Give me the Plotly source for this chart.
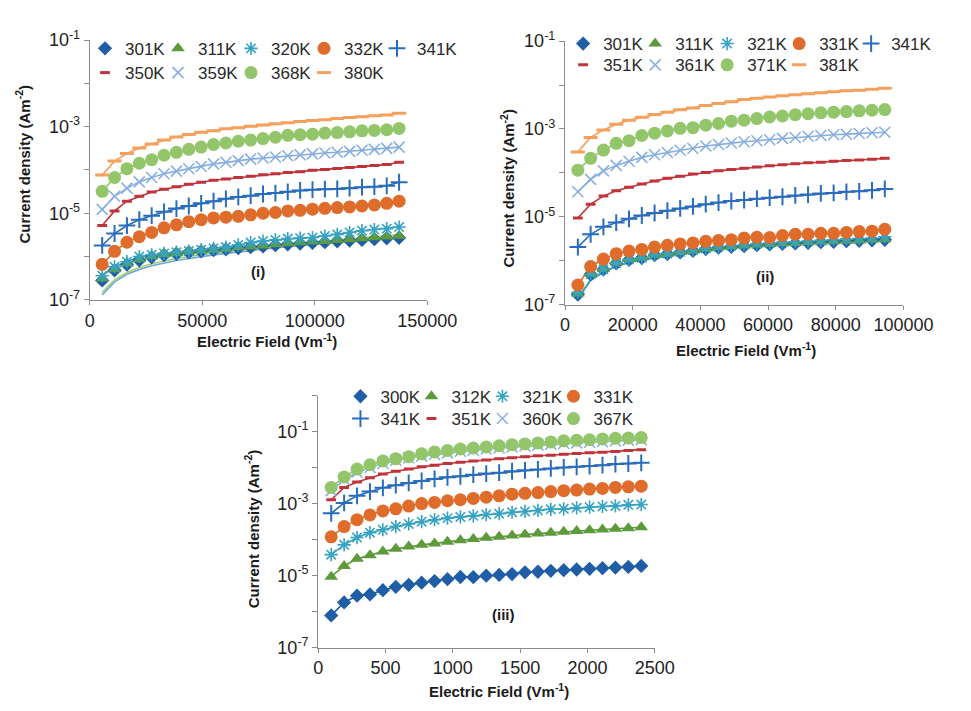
import plotly.graph_objects as go

# ---------------- data ----------------
field_i = [5500, 11000, 16500, 22000, 27500, 33000, 38500, 44000, 49500, 55000, 60500, 66000, 71500,
           77000, 82500, 88000, 93500, 99000, 104500, 110000, 115500, 121000, 126500, 132000, 137500]
field_ii = [3780, 7560, 11340, 15120, 18900, 22680, 26460, 30240, 34020, 37800, 41580, 45360, 49140,
            52920, 56700, 60480, 64260, 68040, 71820, 75600, 79380, 83160, 86940, 90720, 94500]
field_iii = [96, 192, 288, 384, 480, 576, 672, 768, 864, 960, 1056, 1152, 1248, 1344, 1440, 1536,
             1632, 1728, 1824, 1920, 2016, 2112, 2208, 2304, 2400]

temps_i = ['301K', '311K', '320K', '332K', '341K', '350K', '359K', '368K', '380K']
temps_ii = ['301K', '311K', '321K', '331K', '341K', '351K', '361K', '371K', '381K']
temps_iii = ['300K', '312K', '321K', '331K', '341K', '351K', '360K', '367K']

# panel (i) current density (A m^-2)
i_301 = [2.8e-7, 4.8e-7, 6.5e-7, 8.2e-7, 9.6e-7, 1.08e-6, 1.16e-6, 1.25e-6, 1.32e-6, 1.40e-6, 1.47e-6, 1.56e-6, 1.64e-6,
         1.72e-6, 1.83e-6, 1.92e-6, 2.0e-6, 2.08e-6, 2.15e-6, 2.25e-6, 2.33e-6, 2.42e-6, 2.52e-6, 2.64e-6, 2.7e-6]
i_311 = [3.1e-7, 5.1e-7, 6.9e-7, 8.6e-7, 1.02e-6, 1.15e-6, 1.21e-6, 1.32e-6, 1.37e-6, 1.44e-6, 1.52e-6, 1.63e-6, 1.71e-6,
         1.80e-6, 1.93e-6, 2.03e-6, 2.14e-6, 2.21e-6, 2.29e-6, 2.41e-6, 2.50e-6, 2.63e-6, 2.77e-6, 2.9e-6, 3.0e-6]
i_320 = [3.6e-7, 5.8e-7, 7.6e-7, 1.0e-6, 1.1e-6, 1.18e-6, 1.26e-6, 1.34e-6, 1.44e-6, 1.54e-6, 1.65e-6, 1.85e-6, 2.1e-6,
         2.28e-6, 2.42e-6, 2.6e-6, 2.66e-6, 2.75e-6, 2.97e-6, 3.24e-6, 3.6e-6, 3.95e-6, 4.2e-6, 4.4e-6, 4.8e-6]
i_332 = [6.6e-7, 1.32e-6, 2.14e-6, 2.86e-6, 3.6e-6, 4.6e-6, 5.4e-6, 6.4e-6, 7.1e-6, 7.8e-6, 8.1e-6, 8.5e-6, 9.2e-6,
         1.0e-5, 1.04e-5, 1.13e-5, 1.17e-5, 1.24e-5, 1.30e-5, 1.35e-5, 1.40e-5, 1.47e-5, 1.55e-5, 1.69e-5, 1.9e-5]
i_341 = [1.8e-6, 3.4e-6, 5.2e-6, 7.1e-6, 8.8e-6, 1.08e-5, 1.28e-5, 1.47e-5, 1.69e-5, 1.9e-5, 2.15e-5, 2.38e-5, 2.55e-5,
         2.78e-5, 2.93e-5, 3.13e-5, 3.36e-5, 3.5e-5, 3.6e-5, 3.65e-5, 3.8e-5, 4.0e-5, 4.1e-5, 4.3e-5, 5.2e-5]
i_350 = [5.2e-6, 1.13e-5, 1.9e-5, 2.46e-5, 3.08e-5, 3.6e-5, 4.1e-5, 4.7e-5, 5.2e-5, 5.8e-5, 6.2e-5, 6.7e-5, 7.2e-5,
         7.7e-5, 8.2e-5, 8.7e-5, 9.1e-5, 9.8e-5, 1.03e-4, 1.08e-4, 1.14e-4, 1.2e-4, 1.26e-4, 1.33e-4, 1.5e-4]
i_359 = [1.23e-5, 2.46e-5, 3.8e-5, 5.3e-5, 6.7e-5, 8.2e-5, 9.4e-5, 1.07e-4, 1.2e-4, 1.38e-4, 1.5e-4, 1.64e-4, 1.78e-4,
         1.88e-4, 2.0e-4, 2.12e-4, 2.23e-4, 2.35e-4, 2.47e-4, 2.56e-4, 2.69e-4, 2.84e-4, 2.99e-4, 3.15e-4, 3.37e-4]
i_368 = [3.2e-5, 6.7e-5, 1.07e-4, 1.43e-4, 1.72e-4, 2.19e-4, 2.56e-4, 2.99e-4, 3.37e-4, 3.87e-4, 4.2e-4, 4.6e-4, 4.9e-4,
         5.3e-4, 5.7e-4, 6.3e-4, 6.5e-4, 6.7e-4, 7.1e-4, 7.3e-4, 7.6e-4, 8.0e-4, 8.2e-4, 8.5e-4, 9.1e-4]
i_380 = [7.6e-5, 1.6e-4, 2.4e-4, 3.2e-4, 4.0e-4, 4.9e-4, 5.8e-4, 6.6e-4, 7.4e-4, 8.1e-4, 8.9e-4, 9.5e-4, 1.02e-3,
         1.10e-3, 1.17e-3, 1.23e-3, 1.32e-3, 1.38e-3, 1.45e-3, 1.55e-3, 1.62e-3, 1.70e-3, 1.78e-3, 1.86e-3, 2.04e-3]
fit_i_301 = [1.3e-7, 2.6e-7, 3.9e-7, 5.0e-7, 6.1e-7, 7.1e-7, 8.1e-7, 9.0e-7, 1.0e-6, 1.09e-6, 1.18e-6, 1.28e-6, 1.38e-6,
             1.48e-6, 1.58e-6, 1.68e-6, 1.78e-6, 1.88e-6, 1.98e-6, 2.08e-6, 2.2e-6, 2.32e-6, 2.44e-6, 2.57e-6, 2.7e-6]
fit_i_311 = [1.5e-7, 2.9e-7, 4.3e-7, 5.6e-7, 6.8e-7, 7.9e-7, 9.0e-7, 1.0e-6, 1.11e-6, 1.22e-6, 1.33e-6, 1.44e-6, 1.55e-6,
             1.67e-6, 1.79e-6, 1.91e-6, 2.03e-6, 2.16e-6, 2.29e-6, 2.43e-6, 2.57e-6, 2.72e-6, 2.87e-6, 3.03e-6, 3.2e-6]

# panel (ii)
ii_301 = [1.7e-7, 4.9e-7, 6.3e-7, 8.7e-7, 1.04e-6, 1.15e-6, 1.35e-6, 1.42e-6, 1.55e-6, 1.68e-6, 1.85e-6, 1.98e-6, 2.08e-6,
          2.16e-6, 2.26e-6, 2.35e-6, 2.42e-6, 2.48e-6, 2.56e-6, 2.64e-6, 2.7e-6, 2.78e-6, 2.85e-6, 2.92e-6, 3.0e-6]
ii_311 = [1.8e-7, 5.2e-7, 6.6e-7, 9.2e-7, 1.09e-6, 1.19e-6, 1.40e-6, 1.45e-6, 1.58e-6, 1.72e-6, 1.90e-6, 2.04e-6, 2.14e-6,
          2.22e-6, 2.33e-6, 2.41e-6, 2.49e-6, 2.54e-6, 2.62e-6, 2.71e-6, 2.76e-6, 2.86e-6, 2.9e-6, 3.0e-6, 3.1e-6]
ii_321 = [1.9e-7, 5.0e-7, 6.4e-7, 8.8e-7, 1.06e-6, 1.17e-6, 1.38e-6, 1.46e-6, 1.6e-6, 1.75e-6, 1.93e-6, 2.08e-6, 2.2e-6,
          2.3e-6, 2.42e-6, 2.52e-6, 2.62e-6, 2.7e-6, 2.8e-6, 2.9e-6, 3.0e-6, 3.1e-6, 3.2e-6, 3.3e-6, 3.5e-6]
ii_331 = [2.8e-7, 7.4e-7, 1.09e-6, 1.45e-6, 1.66e-6, 1.81e-6, 2.04e-6, 2.25e-6, 2.41e-6, 2.54e-6, 2.76e-6, 2.9e-6, 3.0e-6,
          3.27e-6, 3.44e-6, 3.38e-6, 3.75e-6, 4.0e-6, 4.0e-6, 4.2e-6, 4.2e-6, 4.4e-6, 4.6e-6, 4.7e-6, 5.2e-6]
ii_341 = [2.04e-6, 4.0e-6, 5.9e-6, 7.4e-6, 9.0e-6, 1.07e-5, 1.22e-5, 1.38e-5, 1.55e-5, 1.72e-5, 1.94e-5, 2.11e-5, 2.29e-5,
          2.41e-5, 2.58e-5, 2.72e-5, 2.86e-5, 3.06e-5, 3.2e-5, 3.4e-5, 3.5e-5, 3.7e-5, 3.8e-5, 4.0e-5, 4.3e-5]
ii_351 = [9.4e-6, 1.94e-5, 2.96e-5, 3.9e-5, 4.7e-5, 5.6e-5, 6.5e-5, 7.5e-5, 8.4e-5, 9.4e-5, 1.02e-4, 1.11e-4, 1.19e-4,
          1.27e-4, 1.36e-4, 1.45e-4, 1.53e-4, 1.61e-4, 1.69e-4, 1.75e-4, 1.84e-4, 1.90e-4, 1.97e-4, 2.04e-4, 2.14e-4]
ii_361 = [3.7e-5, 7.1e-5, 1.11e-4, 1.48e-4, 1.84e-4, 2.25e-4, 2.58e-4, 2.9e-4, 3.27e-4, 3.6e-4, 4.1e-4, 4.4e-4, 4.8e-4,
          5.1e-4, 5.4e-4, 5.7e-4, 6.1e-4, 6.4e-4, 6.8e-4, 7.1e-4, 7.4e-4, 7.6e-4, 7.9e-4, 8.2e-4, 8.4e-4]
ii_371 = [1.15e-4, 2.14e-4, 3.3e-4, 4.7e-4, 5.4e-4, 7.1e-4, 8.0e-4, 9.0e-4, 1.03e-3, 1.07e-3, 1.22e-3, 1.33e-3, 1.50e-3,
          1.58e-3, 1.72e-3, 1.87e-3, 1.97e-3, 2.11e-3, 2.22e-3, 2.33e-3, 2.41e-3, 2.49e-3, 2.58e-3, 2.67e-3, 2.76e-3]
ii_381 = [3.0e-4, 6.4e-4, 9.5e-4, 1.27e-3, 1.58e-3, 1.84e-3, 2.14e-3, 2.41e-3, 2.72e-3, 3.0e-3, 3.4e-3, 3.8e-3, 4.15e-3,
          4.7e-3, 5.0e-3, 5.35e-3, 5.7e-3, 6.0e-3, 6.3e-3, 6.7e-3, 7.0e-3, 7.4e-3, 7.6e-3, 8.0e-3, 8.4e-3]
fit_ii_low = [1.4e-7, 3.6e-7, 5.5e-7, 7.5e-7, 9.2e-7, 1.05e-6, 1.17e-6, 1.29e-6, 1.41e-6, 1.53e-6, 1.70e-6, 1.85e-6, 1.99e-6,
              2.13e-6, 2.28e-6, 2.38e-6, 2.48e-6, 2.57e-6, 2.68e-6, 2.78e-6, 2.87e-6, 2.98e-6, 3.05e-6, 3.12e-6, 3.2e-6]

# panel (iii)
iii_300 = [7.9e-7, 1.81e-6, 2.79e-6, 3.03e-6, 3.96e-6, 4.9e-6, 5.6e-6, 6.4e-6, 7.1e-6, 8.0e-6, 9.2e-6, 9.1e-6, 1.0e-5,
           1.05e-5, 1.11e-5, 1.24e-5, 1.29e-5, 1.37e-5, 1.43e-5, 1.49e-5, 1.55e-5, 1.62e-5, 1.68e-5, 1.75e-5, 1.87e-5]
iii_312 = [9.4e-6, 1.87e-5, 2.94e-5, 3.7e-5, 4.7e-5, 5.6e-5, 6.5e-5, 7.2e-5, 7.9e-5, 8.8e-5, 9.6e-5, 1.04e-4, 1.13e-4,
           1.20e-4, 1.30e-4, 1.39e-4, 1.48e-4, 1.57e-4, 1.67e-4, 1.74e-4, 1.82e-4, 1.93e-4, 2.01e-4, 2.10e-4, 2.23e-4]
iii_321 = [3.85e-5, 7.2e-5, 1.15e-4, 1.57e-4, 1.89e-4, 2.32e-4, 2.74e-4, 3.17e-4, 3.6e-4, 3.98e-4, 4.3e-4, 4.6e-4, 5.0e-4,
           5.3e-4, 5.8e-4, 6.1e-4, 6.5e-4, 7.0e-4, 7.2e-4, 7.7e-4, 8.0e-4, 8.4e-4, 8.7e-4, 9.3e-4, 9.5e-4]
iii_331 = [1.20e-4, 2.32e-4, 3.6e-4, 4.9e-4, 6.3e-4, 7.2e-4, 8.6e-4, 1.01e-3, 1.09e-3, 1.21e-3, 1.29e-3, 1.40e-3, 1.52e-3,
           1.66e-3, 1.84e-3, 1.95e-3, 2.04e-3, 2.17e-3, 2.31e-3, 2.40e-3, 2.56e-3, 2.66e-3, 2.83e-3, 2.95e-3, 3.08e-3]
iii_341 = [5.4e-4, 1.05e-3, 1.66e-3, 2.17e-3, 2.77e-3, 3.27e-3, 3.79e-3, 4.3e-3, 4.9e-3, 5.4e-3, 5.8e-3, 6.4e-3, 6.9e-3,
           7.3e-3, 8.0e-3, 8.5e-3, 9.0e-3, 9.6e-3, 1.02e-2, 1.06e-2, 1.11e-2, 1.18e-2, 1.26e-2, 1.31e-2, 1.37e-2]
iii_351 = [1.29e-3, 2.83e-3, 4.0e-3, 5.3e-3, 6.7e-3, 8.0e-3, 9.2e-3, 1.06e-2, 1.18e-2, 1.31e-2, 1.42e-2, 1.55e-2, 1.64e-2,
           1.78e-2, 1.90e-2, 2.02e-2, 2.15e-2, 2.24e-2, 2.38e-2, 2.48e-2, 2.59e-2, 2.70e-2, 2.81e-2, 2.99e-2, 3.18e-2]
iii_360 = [2.31e-3, 4.7e-3, 7.5e-3, 1.02e-2, 1.31e-2, 1.61e-2, 1.90e-2, 2.10e-2, 2.33e-2, 2.59e-2, 2.87e-2, 3.06e-2, 3.32e-2,
           3.53e-2, 3.76e-2, 4.0e-2, 4.25e-2, 4.5e-2, 4.7e-2, 4.9e-2, 5.1e-2, 5.3e-2, 5.6e-2, 5.8e-2, 6.0e-2]
iii_367 = [2.83e-3, 5.5e-3, 9.2e-3, 1.21e-2, 1.55e-2, 1.78e-2, 2.02e-2, 2.43e-2, 2.75e-2, 2.99e-2, 3.32e-2, 3.53e-2, 3.76e-2,
           4.08e-2, 4.34e-2, 4.6e-2, 4.9e-2, 5.2e-2, 5.6e-2, 5.8e-2, 6.0e-2, 6.3e-2, 6.6e-2, 6.7e-2, 6.9e-2]

x_ticks_i = [0, 50000, 100000, 150000]
x_ticks_ii = [0, 20000, 40000, 60000, 80000, 100000]
x_ticks_iii = [0, 500, 1000, 1500, 2000, 2500]

# ---------------- styling ----------------
W, H = 971, 711
def fx(p): return p / W
def fy(p): return 1 - p / H

styles = [
    dict(symbol='diamond', color='#1f5ea6', size=11, lw=0),
    dict(symbol='triangle-up', color='#5c9a3b', size=12, lw=0),
    dict(symbol='asterisk-open', color='#37a3c3', size=11, lw=1.6),
    dict(symbol='circle', color='#df6c2b', size=13, lw=0),
    dict(symbol='cross-thin-open', color='#2a6cbc', size=12, lw=2),
    dict(symbol='line-ew-open', color='#c0333a', size=7, lw=3),
    dict(symbol='x-thin-open', color='#86aee0', size=11, lw=1.5),
    dict(symbol='circle', color='#93c66a', size=13, lw=0),
    dict(symbol='line-ew-open', color='#f5a05c', size=10, lw=3),
]

panels = [
    dict(x=field_i, ys=[i_301, i_311, i_320, i_332, i_341, i_350, i_359, i_368, i_380], names=temps_i,
         fits={0: (fit_i_301, '#6fa3dc'), 1: (fit_i_311, '#9fd06e')},
         xa='x', ya='y', leg=('legend', 'legend2'), nrow1=5),
    dict(x=field_ii, ys=[ii_301, ii_311, ii_321, ii_331, ii_341, ii_351, ii_361, ii_371, ii_381], names=temps_ii,
         fits={0: (fit_ii_low, '#5b8fd0'), 2: (fit_ii_low, '#3aaac8'), 1: (fit_ii_low, '#5c9a3b')},
         xa='x2', ya='y2', leg=('legend3', 'legend4'), nrow1=5),
    dict(x=field_iii, ys=[iii_300, iii_312, iii_321, iii_331, iii_341, iii_351, iii_360, iii_367], names=temps_iii,
         fits={}, xa='x3', ya='y3', leg=('legend5', 'legend6'), nrow1=4),
]

fig = go.Figure()
for p in panels:
    # fitted / connecting lines (no legend entries)
    for k, yv in enumerate(p['ys']):
        st = styles[k]
        if k in p['fits']:
            ydat, col = p['fits'][k]
        else:
            ydat, col = yv, st['color']
        fig.add_trace(go.Scatter(x=p['x'], y=ydat, mode='lines', xaxis=p['xa'], yaxis=p['ya'],
                                 line=dict(color=col, width=1.6), showlegend=False, hoverinfo='skip'))
    # data markers
    n = len(p['ys'])
    for k, yv in enumerate(p['ys']):
        st = styles[k]
        last_in_row = (k == p['nrow1'] - 1) or (k == n - 1)
        fig.add_trace(go.Scatter(
            x=p['x'], y=yv, mode='markers', name=p['names'][k], xaxis=p['xa'], yaxis=p['ya'],
            legend=p['leg'][0] if k < p['nrow1'] else p['leg'][1],
            legendwidth=55 if last_in_row else None,
            marker=dict(symbol=st['symbol'], size=st['size'], color=st['color'],
                        line=dict(color=st['color'], width=st['lw']))))

axis_col = '#8c8c8c'
tick_font = dict(family='Liberation Sans, Arial, sans-serif', size=18, color='#222222')

def xaxis(dom, rng, tv):
    return dict(domain=[fx(dom[0]), fx(dom[1])], range=rng, tickvals=tv, tickformat='d',
                showline=True, linecolor=axis_col, linewidth=1.2, ticks='outside', ticklen=4,
                tickcolor=axis_col, showgrid=False, zeroline=False, tickfont=tick_font)

def yaxis(dom, top_exp, anchor):
    vals = [10.0 ** e for e in range(-7, top_exp + 1)]
    txt = [('10<sup>%d</sup>' % e) if (e % 2 != 0) else '' for e in range(-7, top_exp + 1)]
    return dict(domain=[fy(dom[1]), fy(dom[0])], type='log', range=[-7, top_exp], tickvals=vals, ticktext=txt,
                showline=True, linecolor=axis_col, linewidth=1.2, ticks='outside', ticklen=5,
                tickcolor=axis_col, showgrid=False, zeroline=False, tickfont=tick_font, anchor=anchor)

legend_font = dict(family='Liberation Sans, Arial, sans-serif', size=17, color='#2a2a2a')
def legend(sym_x, row_y, step):
    return dict(orientation='h', x=fx(sym_x - 21), y=fy(row_y), xanchor='left', yanchor='middle',
                xref='paper', yref='paper', bgcolor='rgba(0,0,0,0)', font=legend_font,
                entrywidthmode='pixels', entrywidth=step - 45, itemwidth=30, borderwidth=0,
                tracegroupgap=0)

fig.update_layout(
    width=W, height=H, margin=dict(l=0, r=0, t=0, b=0),
    paper_bgcolor='white', plot_bgcolor='white',
    xaxis=dict(xaxis((88, 438), [0, 150000], x_ticks_i), anchor='y'),
    yaxis=yaxis((29, 297), -1, 'x'),
    xaxis2=dict(xaxis((581, 932), [0, 100000], x_ticks_ii), anchor='y2'),
    yaxis2=yaxis((30, 302), -1, 'x2'),
    xaxis3=dict(xaxis((325, 674), [0, 2500], x_ticks_iii), anchor='y3'),
    yaxis3=yaxis((396, 656), 0, 'x3'),
    legend=legend(104, 38, 73), legend2=legend(104, 63, 73),
    legend3=legend(600, 33, 72), legend4=legend(600, 55, 72),
    legend5=legend(369, 397, 71), legend6=legend(369, 420, 71),
)

title_font = dict(family='Liberation Sans, Arial, sans-serif', size=15, color='#1a1a1a')
ann = []
for (xc, yc) in [(18, 157), (521, 182), (256, 533)]:
    ann.append(dict(text='<b>Current density (Am<sup>-2</sup>)</b>', x=fx(xc), y=fy(yc), xref='paper', yref='paper',
                    textangle=-90, showarrow=False, font=title_font, xanchor='center', yanchor='middle'))
for (xc, yc) in [(272, 339), (769, 348), (512, 700)]:
    ann.append(dict(text='<b>Electric Field (Vm<sup>-1</sup>)</b>', x=fx(xc), y=fy(yc), xref='paper', yref='paper',
                    showarrow=False, font=title_font, xanchor='center', yanchor='middle'))
for (lab, xc, yc) in [('(i)', 262, 268), ('(ii)', 788, 273), ('(iii)', 517, 622)]:
    ann.append(dict(text='<b>%s</b>' % lab, x=fx(xc), y=fy(yc), xref='paper', yref='paper',
                    showarrow=False, font=title_font, xanchor='center', yanchor='middle'))
fig.update_layout(annotations=ann)

fig.write_html('out.html')
